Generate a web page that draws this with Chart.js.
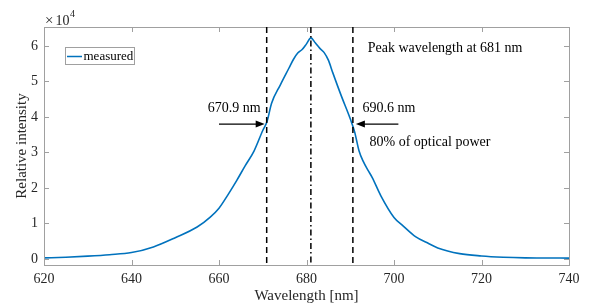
<!DOCTYPE html>
<html>
<head>
<meta charset="utf-8">
<script src="https://cdn.jsdelivr.net/npm/chart.js@4/dist/chart.umd.min.js"></script>
<style>
  html, body { margin: 0; padding: 0; background: #fff; }
  #wrap { width: 589px; height: 305px; }
</style>
</head>
<body>
<div id="wrap"><canvas id="spectrum" width="589" height="305"></canvas></div>
<script>
// spectrum
var wavelengths = [620, 625, 630, 635, 640, 645, 650, 655, 658, 660, 662, 664, 666, 668, 670, 671, 672, 674, 676, 677, 678, 679, 680, 681, 682, 683, 684, 685, 686, 688, 690, 691, 692, 693, 694, 695, 697, 700, 702, 705, 708, 710, 715, 720, 725, 730, 735, 740];
var intensity = [300, 500, 800, 1200, 1800, 3400, 6000, 9000, 11800, 14300, 18000, 22000, 26300, 30400, 36200, 38800, 43800, 49000, 53800, 56200, 58000, 59000, 60600, 62300, 60900, 59400, 58200, 56000, 52500, 45800, 39500, 35800, 30500, 27400, 25100, 23000, 17800, 11700, 9400, 6200, 4300, 3100, 1500, 850, 500, 320, 270, 250];

var xTicks = [620, 640, 660, 680, 700, 720, 740];
var yTicks = [0, 10000, 20000, 30000, 40000, 50000, 60000];

// marker lines: 80% power band and the peak
var bandEdges = [670.9, 690.6];
var peakWavelength = 681;
var arrowLevel = 38000;

var serif = '"Liberation Serif", "Times New Roman", serif';
var textColor = '#262626';
var boxColor = '#a0a0a0';

var points = wavelengths.map(function (w, i) { return { x: w, y: intensity[i] }; });

function drawArrow(ctx, x1, y, x2) {
  var dir = x2 > x1 ? 1 : -1;
  ctx.beginPath();
  ctx.moveTo(x1, y);
  ctx.lineTo(x2 - dir * 6, y);
  ctx.stroke();
  ctx.beginPath();
  ctx.moveTo(x2, y);
  ctx.lineTo(x2 - dir * 9, y - 3.5);
  ctx.lineTo(x2 - dir * 9, y + 3.5);
  ctx.closePath();
  ctx.fill();
}

var extras = {
  id: 'extras',
  afterDraw: function (chart) {
    var ctx = chart.ctx;
    var a = chart.chartArea;
    var xs = chart.scales.x, ys = chart.scales.y;
    ctx.save();

    // box
    ctx.strokeStyle = boxColor;
    ctx.lineWidth = 1;
    ctx.strokeRect(Math.round(a.left) + 0.5, Math.round(a.top) + 0.5, Math.round(a.right - a.left), Math.round(a.bottom - a.top));

    // inward ticks on all four sides
    ctx.beginPath();
    xTicks.forEach(function (t) {
      var px = Math.round(xs.getPixelForValue(t)) + 0.5;
      ctx.moveTo(px, a.bottom); ctx.lineTo(px, a.bottom - 5);
      ctx.moveTo(px, a.top); ctx.lineTo(px, a.top + 5);
    });
    yTicks.forEach(function (t) {
      var py = Math.round(ys.getPixelForValue(t)) + 0.5;
      ctx.moveTo(a.left, py); ctx.lineTo(a.left + 5, py);
      ctx.moveTo(a.right, py); ctx.lineTo(a.right - 5, py);
    });
    ctx.stroke();

    // vertical marker lines
    ctx.strokeStyle = '#000';
    ctx.lineWidth = 1.5;
    ctx.setLineDash([6, 4]);
    bandEdges.forEach(function (w) {
      var px = xs.getPixelForValue(w);
      ctx.beginPath(); ctx.moveTo(px, a.top); ctx.lineTo(px, a.bottom); ctx.stroke();
    });
    ctx.setLineDash([6, 3, 1.5, 3]);
    var pk = xs.getPixelForValue(peakWavelength);
    ctx.beginPath(); ctx.moveTo(pk, a.top); ctx.lineTo(pk, a.bottom); ctx.stroke();
    ctx.setLineDash([]);

    // arrows
    ctx.lineWidth = 1.2;
    ctx.fillStyle = '#000';
    var ay = ys.getPixelForValue(arrowLevel);
    drawArrow(ctx, xs.getPixelForValue(660), ay, xs.getPixelForValue(bandEdges[0]) - 2);
    drawArrow(ctx, xs.getPixelForValue(701), ay, xs.getPixelForValue(bandEdges[1]) + 3);

    // annotations
    ctx.fillStyle = '#000';
    ctx.font = '14px ' + serif;
    ctx.textBaseline = 'middle';
    ctx.textAlign = 'left';
    ctx.fillText('670.9 nm', xs.getPixelForValue(657.4), ys.getPixelForValue(42300));
    ctx.fillText('690.6 nm', xs.getPixelForValue(692.8), ys.getPixelForValue(42400));
    ctx.fillText('80% of optical power', xs.getPixelForValue(694.4), ys.getPixelForValue(32800));
    ctx.fillText('Peak wavelength at 681 nm', xs.getPixelForValue(694.0), ys.getPixelForValue(59400));

    // legend
    ctx.fillStyle = '#fff';
    ctx.fillRect(65, 48, 69, 17);
    ctx.strokeStyle = boxColor;
    ctx.lineWidth = 1;
    ctx.strokeRect(65.5, 47.5, 69, 17);
    ctx.strokeStyle = '#0072BD';
    ctx.lineWidth = 1.5;
    ctx.beginPath(); ctx.moveTo(67, 56.5); ctx.lineTo(82, 56.5); ctx.stroke();
    ctx.fillStyle = '#000';
    ctx.font = '13px ' + serif;
    ctx.fillText('measured', 83.5, 56.5);

    // exponent
    ctx.fillStyle = textColor;
    ctx.textBaseline = 'alphabetic';
    ctx.font = '15px ' + serif;
    ctx.fillText('\u00d7', 45, 25);
    ctx.font = '14px ' + serif;
    ctx.fillText('10', 55.5, 25);
    ctx.font = '10px ' + serif;
    ctx.fillText('4', 70, 17);

    // axis titles
    ctx.textBaseline = 'middle';
    ctx.font = '15px ' + serif;
    ctx.textAlign = 'center';
    ctx.fillText('Wavelength [nm]', (a.left + a.right) / 2, 296);
    ctx.translate(22, (a.top + a.bottom) / 2);
    ctx.rotate(-Math.PI / 2);
    ctx.fillText('Relative intensity', 0, 0);
    ctx.restore();
  }
};

new Chart(document.getElementById('spectrum'), {
  type: 'scatter',
  data: {
    datasets: [{
      label: 'measured',
      data: points,
      showLine: true,
      borderColor: '#0072BD',
      borderWidth: 1.6,
      pointRadius: 0,
      cubicInterpolationMode: 'monotone',
      fill: false
    }]
  },
  options: {
    responsive: false,
    animation: false,
    devicePixelRatio: 1,
    layout: { padding: { left: 0, right: 20, top: 27, bottom: 0 } },
    plugins: { legend: { display: false }, tooltip: { enabled: false } },
    scales: {
      x: {
        type: 'linear',
        min: 620, max: 740,
        afterFit: function (s) { s.height = 40; },
        afterBuildTicks: function (s) { s.ticks = xTicks.map(function (v) { return { value: v }; }); },
        grid: { display: false, drawTicks: false },
        border: { display: false },
        ticks: { color: textColor, font: { family: serif, size: 14 }, padding: 6, maxRotation: 0 }
      },
      y: {
        type: 'linear',
        min: -1700, max: 65350,
        afterFit: function (s) { s.width = 44; },
        afterBuildTicks: function (s) { s.ticks = yTicks.map(function (v) { return { value: v }; }); },
        grid: { display: false, drawTicks: false },
        border: { display: false },
        ticks: {
          color: textColor, font: { family: serif, size: 14 }, padding: 6,
          callback: function (v) { return v / 10000; }
        }
      }
    }
  },
  plugins: [extras]
});
</script>
</body>
</html>
